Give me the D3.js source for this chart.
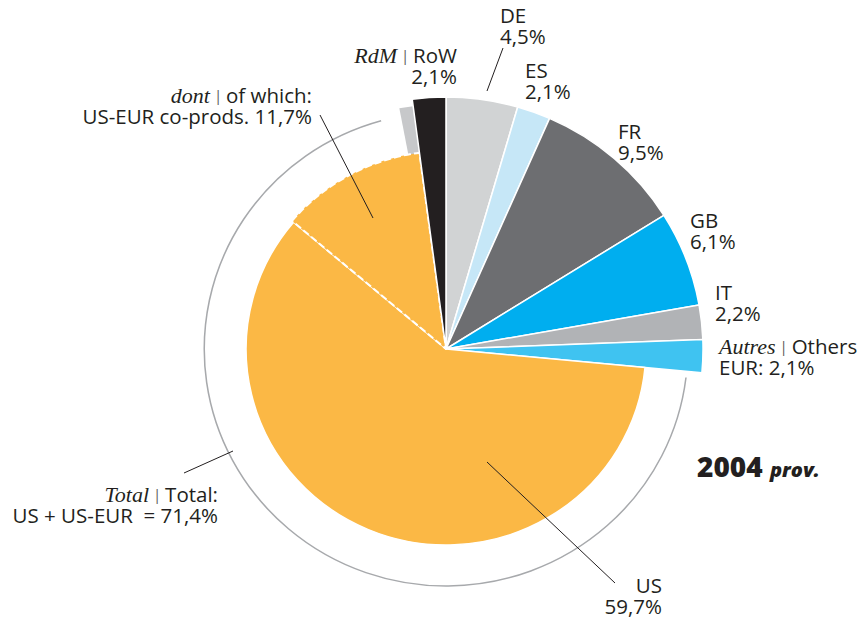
<!DOCTYPE html>
<html>
<head>
<meta charset="utf-8">
<script src="https://cdn.jsdelivr.net/npm/d3@7"></script>
<style>
body { margin: 0; background: #fff; }
text { font-family: "Open Sans", "Noto Sans", sans-serif; font-size: 20.5px; fill: #231f20; }
.it { font-family: "Liberation Serif", serif; font-style: italic; font-size: 22px; }
.bar { fill: #58595b; font-size: 15px; baseline-shift: 2px; }
</style>
</head>
<body>
<script>
// shares of 2004 (prov.), clockwise from 12 o'clock
var names = ["DE", "ES", "FR", "GB", "IT", "Others EUR", "US", "US-EUR co-prods", "RoW"];
var values = [4.5, 2.1, 9.5, 6.1, 2.2, 2.1, 59.7, 11.7, 2.1];
var groups = ["eur", "eur", "eur", "eur", "eur", "eur", "us", "co", "row"];
var colors = ["#d1d3d4", "#c6e7f7", "#6d6e71", "#00aeef", "#b1b3b6", "#3fc3f1", "#fbb845", "#fbb845", "#231f20"];

var W = 864, H = 620;
var cx = 446, cy = 349;
var radius = { eur: 252, us: 196, co: 198, row: 252 };
var ringR = 237;

var svg = d3.select("body").append("svg")
    .attr("width", W)
    .attr("height", H);

var data = names.map(function (n, i) {
    return { name: n, value: values[i], group: groups[i], color: colors[i] };
});

var pie = d3.pie()
    .sort(null)
    .value(function (d) { return d.value; });
var arcs = pie(data);

var arc = d3.arc()
    .innerRadius(0)
    .outerRadius(function (d) { return radius[d.data.group]; });

var g = svg.append("g")
    .attr("transform", "translate(" + cx + "," + cy + ") scale(1.02,1)");

// grey outline ring round US + US-EUR
var us = arcs[6], co = arcs[7];
var deg = Math.PI / 180;
var ring = d3.path();
ring.arc(0, 0, ringR, us.startAngle + 1.5 * deg - Math.PI / 2, co.endAngle - 8 * deg - Math.PI / 2);
g.append("path")
    .attr("d", ring.toString())
    .attr("fill", "none")
    .attr("stroke", "#a7a9ac")
    .attr("stroke-width", 1.5);

// small grey edge behind the RoW slice
var row = arcs[8];
g.append("path")
    .attr("d", d3.arc()({ innerRadius: 0, outerRadius: 245, startAngle: row.startAngle - 3.2 * deg, endAngle: row.startAngle }))
    .attr("fill", "#c7c8ca");

g.selectAll(".slice")
    .data(arcs)
    .enter().append("path")
    .attr("class", "slice")
    .attr("d", arc)
    .attr("fill", function (d) { return d.data.color; })
    .attr("stroke", "#fff")
    .attr("stroke-width", function (d) { return d.data.group == "co" ? 2 : 1.5; })
    .attr("stroke-dasharray", function (d) { return d.data.group == "co" ? "7,3" : null; })
    .attr("stroke-linejoin", "round");

// labels: each line is a list of [text, style]
var labels = [
    { x: 500, y: 23, a: "start", lines: [[["DE"]], [["4,5%"]]] },
    { x: 525, y: 78, a: "start", lines: [[["ES"]], [["2,1%"]]] },
    { x: 618, y: 139, a: "start", lines: [[["FR"]], [["9,5%"]]] },
    { x: 690, y: 228, a: "start", lines: [[["GB"]], [["6,1%"]]] },
    { x: 715, y: 300, a: "start", lines: [[["IT"]], [["2,2%"]]] },
    { x: 719, y: 354, a: "start", lines: [[["Autres", "it"], [" | ", "bar"], ["Others"]], [["EUR: 2,1%"]]] },
    { x: 662, y: 593, a: "end", lines: [[["US"]], [["59,7%"]]] },
    { x: 218, y: 502, a: "end", lines: [[["Total", "it"], [" | ", "bar"], ["Total:"]], [["US + US-EUR \u00a0= 71,4%"]]] },
    { x: 312, y: 103, a: "end", lines: [[["dont", "it"], [" | ", "bar"], ["of which:"]], [["US-EUR co-prods. 11,7%"]]] },
    { x: 457, y: 63, a: "end", lines: [[["RdM", "it"], [" | ", "bar"], ["RoW"]], [["2,1%"]]] }
];

var lab = svg.append("g");
labels.forEach(function (l) {
    l.lines.forEach(function (line, i) {
        var t = lab.append("text")
            .attr("x", l.x)
            .attr("y", l.y + i * 21)
            .attr("text-anchor", l.a);
        line.forEach(function (s) {
            t.append("tspan")
                .attr("class", s[1] || null)
                .text(s[0]);
        });
    });
});

// leader lines
var leaders = [
    [487, 91, 503, 48],
    [320, 115, 373, 218],
    [184, 473, 233, 451],
    [487, 462, 615, 583]
];
svg.append("g").selectAll("line")
    .data(leaders)
    .enter().append("line")
    .attr("x1", function (d) { return d[0]; })
    .attr("y1", function (d) { return d[1]; })
    .attr("x2", function (d) { return d[2]; })
    .attr("y2", function (d) { return d[3]; })
    .attr("stroke", "#231f20")
    .attr("stroke-width", 1);

// year tag
var yr = svg.append("text")
    .attr("x", 697)
    .attr("y", 477)
    .style("font-weight", "800");
yr.append("tspan").style("font-size", "28px").text("2004 ");
yr.append("tspan").style("font-size", "20px").style("font-style", "italic").text("prov.");
</script>
</body>
</html>
